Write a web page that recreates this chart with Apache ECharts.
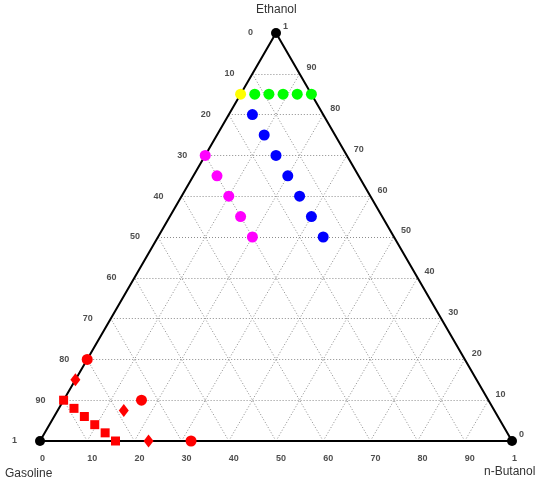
<!DOCTYPE html>
<html>
<head>
<meta charset="utf-8">
<script src="https://cdn.jsdelivr.net/npm/echarts@6/dist/echarts.min.js"></script>
<style>html,body{margin:0;padding:0;background:#fff}#c{width:550px;height:483px}</style>
</head>
<body>
<div id="c"></div>
<script>
// Ternary components as fractions: ethanol (top), butanol (bottom right); gasoline = 1 - ethanol - butanol
const cornerNames = ['Ethanol', 'Gasoline', 'n-Butanol'];
const tickValues = [0, 10, 20, 30, 40, 50, 60, 70, 80, 90];
const vertexLabel = '1';

const yellowEthanol = [0.85];
const yellowButanol = [0.0];

const greenEthanol = [0.85, 0.85, 0.85, 0.85, 0.85];
const greenButanol = [0.03, 0.06, 0.09, 0.12, 0.15];

const blueEthanol = [0.80, 0.75, 0.70, 0.65, 0.60, 0.55, 0.50];
const blueButanol = [0.05, 0.10, 0.15, 0.20, 0.25, 0.30, 0.35];

const magentaEthanol = [0.70, 0.65, 0.60, 0.55, 0.50];
const magentaButanol = [0.00, 0.05, 0.10, 0.15, 0.20];

const redSquareEthanol = [0.10, 0.08, 0.06, 0.04, 0.02, 0.00];
const redSquareButanol = [0.00, 0.032, 0.064, 0.096, 0.128, 0.16];

const redDiamondEthanol = [0.15, 0.075, 0.00];
const redDiamondButanol = [0.00, 0.14, 0.23];

const redCircleEthanol = [0.20, 0.10, 0.00];
const redCircleButanol = [0.00, 0.165, 0.32];

const vertexEthanol = [1, 0, 0];
const vertexButanol = [0, 0, 1];

const H = Math.sqrt(3) / 2;
function tern(e, b) { return [b + e / 2, e * H]; }
function pts(E, B) { return E.map((e, i) => tern(e, B[i])); }

// grid lines
const gridSegs = [];
for (let k = 1; k < 10; k++) {
  const f = k / 10;
  gridSegs.push({ coords: [tern(f, 0), tern(f, 1 - f)] });       // const ethanol
  gridSegs.push({ coords: [tern(0, f), tern(1 - f, f)] });       // const butanol
  gridSegs.push({ coords: [tern(0, 1 - f), tern(1 - f, 0)] });   // const gasoline
}

const tickFont = { fontFamily: 'Liberation Sans, Arial, sans-serif', fontSize: 9, fontWeight: 'bold', color: '#222' };

// left edge labels: at ethanol = 1 - t/100 (butanol 0); gasoline vertex gets '1'
const leftLabels = tickValues.map(t => ({ value: tern(1 - t / 100, 0), name: String(t) }));
leftLabels.push({ value: tern(0, 0), name: vertexLabel });
// right edge labels: at ethanol = t/100 on right edge
const rightLabels = tickValues.map(t => ({ value: tern(t / 100, 1 - t / 100), name: String(t) }));
rightLabels.push({ value: tern(1, 0), name: vertexLabel });
// bottom labels
const bottomLabels = tickValues.map(t => ({ value: tern(0, t / 100), name: String(t) }));
bottomLabels.push({ value: tern(0, 1), name: vertexLabel });

function labelSeries(data, dx, dy) {
  return {
    type: 'scatter', data: data, symbolSize: 0, silent: true, clip: false, z: 1,
    label: Object.assign({ show: true, position: 'inside', formatter: p => p.name, align: 'left', verticalAlign: 'middle', offset: [dx, dy] }, tickFont)
  };
}
function markSeries(data, symbol, size, color) {
  return { type: 'scatter', data: data, symbol: symbol, symbolSize: size, clip: false, z: 5,
    itemStyle: { color: color, opacity: 1 }, emphasis: { disabled: true } };
}

const chart = echarts.init(document.getElementById('c'));
chart.setOption({
  animation: false,
  backgroundColor: '#fff',
  grid: { left: 40, top: 33, width: 472, height: 408 },
  xAxis: { type: 'value', min: 0, max: 1, show: false },
  yAxis: { type: 'value', min: 0, max: H, show: false },
  graphic: [
    { type: 'text', left: 277 - 21, top: 4, style: { text: cornerNames[0], font: '12px Liberation Sans, Arial, sans-serif', fill: '#333' } },
    { type: 'text', left: 5, top: 468, style: { text: cornerNames[1], font: '12px Liberation Sans, Arial, sans-serif', fill: '#333' } },
    { type: 'text', left: 484, top: 466, style: { text: cornerNames[2], font: '12px Liberation Sans, Arial, sans-serif', fill: '#333' } }
  ],
  series: [
    { type: 'lines', coordinateSystem: 'cartesian2d', data: gridSegs, silent: true, z: 1,
      lineStyle: { color: '#8c8c8c', width: 1, type: [1, 2], opacity: 1 } },
    { type: 'line', data: [tern(0, 0), tern(0, 1), tern(1, 0), tern(0, 0)], symbol: 'none', silent: true, z: 2,
      lineStyle: { color: '#000', width: 2 } },
    labelSeries(leftLabels, -28, 0),
    labelSeries(rightLabels, 7, -6),
    labelSeries(bottomLabels, 0, 18),
    markSeries(pts(vertexEthanol, vertexButanol), 'circle', 10, '#000000'),
    markSeries(pts(yellowEthanol, yellowButanol), 'circle', 11, '#ffff00'),
    markSeries(pts(greenEthanol, greenButanol), 'circle', 11, '#00ff00'),
    markSeries(pts(blueEthanol, blueButanol), 'circle', 11, '#0000ff'),
    markSeries(pts(magentaEthanol, magentaButanol), 'circle', 11, '#ff00ff'),
    markSeries(pts(redSquareEthanol, redSquareButanol), 'rect', 9, '#ff0000'),
    markSeries(pts(redDiamondEthanol, redDiamondButanol), 'diamond', [10, 13], '#ff0000'),
    markSeries(pts(redCircleEthanol, redCircleButanol), 'circle', 11, '#ff0000')
  ]
});
</script>
</body>
</html>
